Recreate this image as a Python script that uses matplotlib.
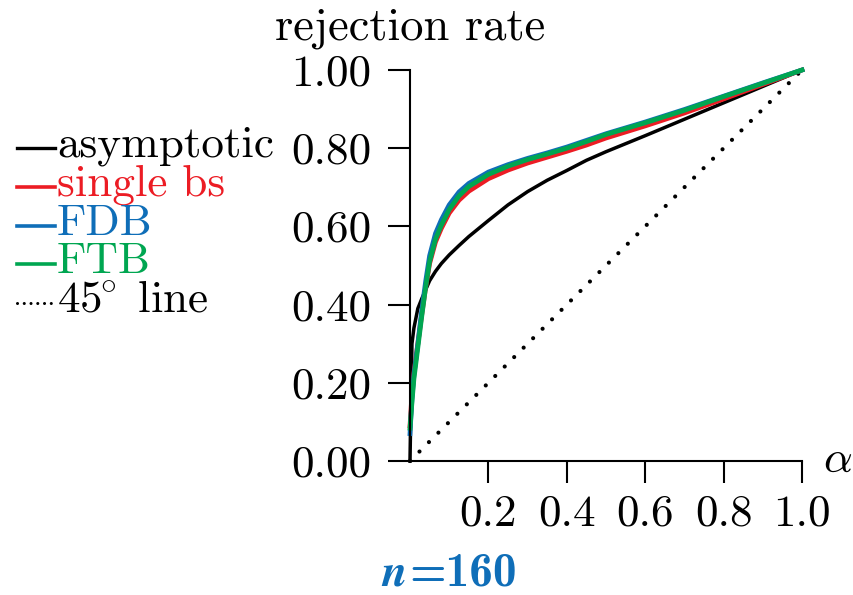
import matplotlib
matplotlib.use("Agg")
import matplotlib.pyplot as plt
from matplotlib.lines import Line2D

plt.rcParams["font.family"] = "cmr10"
plt.rcParams["mathtext.fontset"] = "cm"
plt.rcParams["axes.formatter.use_mathtext"] = True

# nominal level grid and empirical rejection rates
alpha = [0, 0.005, 0.01, 0.02, 0.03, 0.04, 0.05, 0.065, 0.08, 0.1, 0.125, 0.15,
         0.2, 0.25, 0.3, 0.35, 0.4, 0.45, 0.5, 0.6, 0.7, 0.8, 0.9, 1.0]
asymptotic = [0, 0.30, 0.34, 0.39, 0.415, 0.438, 0.461, 0.485, 0.505, 0.527, 0.551, 0.574,
              0.615, 0.655, 0.689, 0.718, 0.743, 0.769, 0.791, 0.832, 0.874, 0.916, 0.958, 1.0]
single_bs = [0.09, 0.17, 0.225, 0.30, 0.375, 0.445, 0.505, 0.56, 0.595, 0.634, 0.667, 0.69,
             0.722, 0.744, 0.762, 0.777, 0.792, 0.808, 0.826, 0.857, 0.89, 0.926, 0.963, 1.0]
fdb = [0.07, 0.16, 0.22, 0.30, 0.385, 0.46, 0.525, 0.582, 0.617, 0.655, 0.688, 0.71,
       0.739, 0.758, 0.774, 0.788, 0.803, 0.82, 0.837, 0.867, 0.899, 0.933, 0.967, 1.0]
ftb = [0.084, 0.15, 0.21, 0.29, 0.37, 0.445, 0.51, 0.567, 0.603, 0.643, 0.678, 0.702,
       0.733, 0.754, 0.771, 0.785, 0.800, 0.817, 0.835, 0.865, 0.897, 0.932, 0.966, 1.0]
diag = [0, 1.0]

x_ticks = [0.2, 0.4, 0.6, 0.8, 1.0]
x_labels = ["0.2", "0.4", "0.6", "0.8", "1.0"]
y_ticks = [0, 0.2, 0.4, 0.6, 0.8, 1.0]
y_labels = ["0.00", "0.20", "0.40", "0.60", "0.80", "1.00"]

series_names = ["asymptotic", "single bs", "FDB", "FTB", r"$45^{\!\!\circ}\ \mathrm{line}$"]
BLACK = "#000000"
RED = "#ec1c24"
BLUE = "#0f6eb8"
GREEN = "#00a651"

FS = 32.5


def fx(px):
    return px / 854


def fy(px):
    return 1 - px / 595


fig = plt.figure(figsize=(8.54, 5.95), dpi=100)
ax = fig.add_axes([fx(410), fy(461), 392 / 854, 391 / 595])

ax.plot(diag, diag, color=BLACK, lw=3, linestyle=(0, (0.01, 3.2)),
        dash_capstyle="round", clip_on=False)
ax.plot(alpha, asymptotic, color=BLACK, lw=2.5, clip_on=False)
ax.plot(alpha, single_bs, color=RED, lw=3.4, clip_on=False)
ax.plot(alpha, fdb, color=BLUE, lw=3.4, clip_on=False)
ax.plot(alpha, ftb, color=GREEN, lw=3.4, clip_on=False)

ax.set_xlim(0, 1)
ax.set_ylim(0, 1)
for side in ("top", "right"):
    ax.spines[side].set_visible(False)
for side in ("left", "bottom"):
    ax.spines[side].set_linewidth(1.5)

ax.set_xticks(x_ticks)
ax.set_xticklabels(x_labels)
ax.set_yticks(y_ticks)
ax.set_yticklabels(y_labels)
ax.tick_params(axis="both", direction="out", length=16, width=1.5, labelsize=FS)
ax.tick_params(axis="x", pad=8)
ax.tick_params(axis="y", pad=12)

fig.text(fx(410), fy(28), "rejection rate", fontsize=33.5, ha="center", va="center")
fig.text(fx(823), fy(461), r"$\alpha$", fontsize=FS, ha="left", va="center")
fig.text(fx(406), fy(586), r"$\boldsymbol{n}$", fontsize=33, color=BLUE,
         ha="right", va="baseline")
fig.text(fx(409), fy(586), "=160", family="cmb10", fontsize=34, color=BLUE,
         ha="left", va="baseline")

# legend drawn by hand on the left margin
colors = [BLACK, RED, BLUE, GREEN, BLACK]
row_y = [148, 187, 226, 264, 303]
for name, col, y in zip(series_names, colors, row_y):
    if name.startswith("$45"):
        h = Line2D([fx(17), fx(55)], [fy(y), fy(y)], transform=fig.transFigure, color=col,
                   lw=2.2, linestyle=(0, (0.01, 2.2)), dash_capstyle="round")
    else:
        h = Line2D([fx(17), fx(55)], [fy(y), fy(y)], transform=fig.transFigure, color=col,
                   lw=2.4 if col == BLACK else 2.6)
    fig.add_artist(h)
    fig.text(fx(57), fy(y + 9), name, fontsize=FS, color=col, ha="left", va="baseline")

fig.savefig("out.png", dpi=100)
